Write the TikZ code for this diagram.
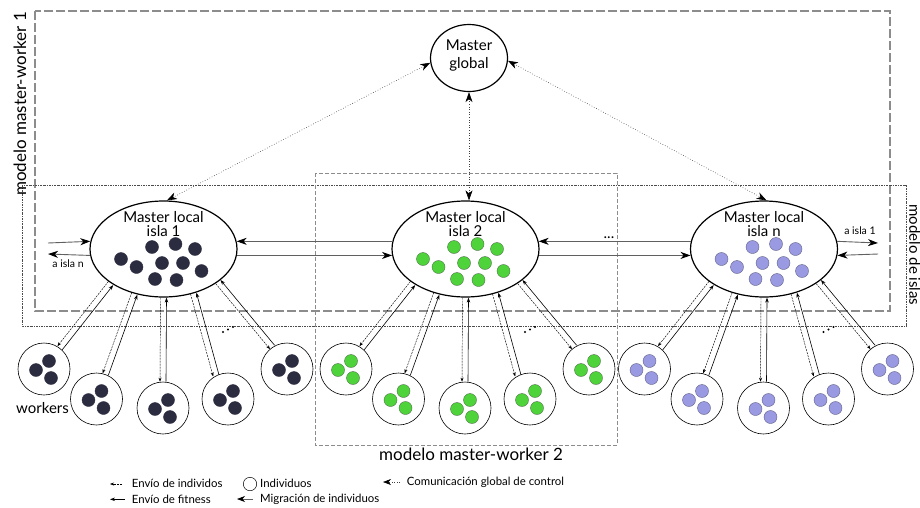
\documentclass[tikz,border=0pt]{standalone}
\usepackage{fontspec}
\setmainfont{Lato}
\usetikzlibrary{arrows.meta,calc,shapes.geometric}
\definecolor{navy}{HTML}{2B2C40}
\definecolor{grn}{HTML}{4ED43A}
\definecolor{grnline}{HTML}{4F6F4A}
\definecolor{lav}{HTML}{9A9AE2}
\definecolor{lavline}{HTML}{5E5E86}
\definecolor{framegray}{HTML}{8C8C8C}
\definecolor{migline}{HTML}{606060}
\newcommand\wklink[4]{%
  \draw[indline] ($(#1.#2)!3pt!-90:(#3.#4)$) -- ($(#3.#4)!3pt!90:(#1.#2)$);
  \draw[fitline] ($(#1.#2)!3pt!90:(#3.#4)$) -- ($(#3.#4)!3pt!-90:(#1.#2)$);
}
\begin{document}
\begin{tikzpicture}[x=1pt,y=-1pt,
  master/.style={ellipse, draw, fill=white, line width=1.2pt, inner sep=0pt},
  worker/.style={circle, draw, fill=white, line width=0.6pt, minimum size=52pt, inner sep=0pt},
  ind/.style={circle, line width=0.4pt, minimum size=13pt, inner sep=0pt},
  indline/.style={dash pattern=on 2pt off 1pt, line width=0.45pt, -{Stealth[length=4pt,width=3pt]}},
  fitline/.style={line width=0.6pt, {Stealth[length=5pt,width=3.5pt]}-},
  mig/.style={migline, line width=0.9pt},
  migtip/.style={-{Stealth[length=10pt,width=7pt,inset=3pt,black]}},
  comm/.style={dotted, line width=0.6pt, black!75},
  commtip/.style={{Stealth[length=10pt,width=7pt,inset=3pt,black]}-{Stealth[length=10pt,width=7pt,inset=3pt,black]}},
  lbl/.style={inner sep=0pt, font=\fontsize{15}{15}\selectfont},
  big/.style={inner sep=0pt, font=\fontsize{17}{17}\selectfont},
  small/.style={inner sep=0pt, font=\fontsize{10.5}{10.5}\selectfont},
  leg/.style={inner sep=0pt, anchor=base west, font=\fontsize{11.4}{11.4}\selectfont}
]
\useasboundingbox (0,0) rectangle (920,507);

% frames
\draw[framegray, line width=1.2pt, dash pattern=on 9pt off 3pt] (35,11) rectangle (890,311);
\draw[black!70, line width=0.6pt, dash pattern=on 2pt off 1pt on 0.7pt off 1pt] (22,185) rectangle (906,326);
\draw[framegray, line width=0.6pt, dash pattern=on 4pt off 2pt] (315,173) rectangle (617,445);
\node[big, rotate=90] (lmw1) at (20,104) {modelo master-worker 1};
\node[inner sep=0pt, font=\fontsize{15}{15}\selectfont, rotate=-90, anchor=base] (lislas) at (909.3,255) {modelo de islas};
\node[big, anchor=base] (lmw2) at (471,460.5) {modelo master-worker 2};

% global master
\node[master, minimum width=77pt, minimum height=67pt] (gl) at (469,58) {};
\node[lbl, anchor=base] (glt1) at (469,50) {Master};
\node[lbl, anchor=base] (glt2) at (469,68) {global};

% islands
\foreach \g/\mx/\col/\lin/\nm in {1/163.5/navy/navy/1, 2/465.5/grn/grnline/2, 3/764/lav/lavline/n} {
  \node[master, minimum width=147pt, minimum height=96pt] (m\g) at (\mx,249) {};
  \node[lbl, anchor=base] (m\g t1) at (\mx,222.5) {Master local};
  \node[lbl, anchor=base] (m\g t2) at (\mx,236) {isla \nm};
  \foreach \dx/\dy [count=\k] in {-42.5/10, -27/18, -11.5/-2, -1.5/14, 12/-5, 19.5/14, 31.5/0, 38/22, -8.5/30, 13/31}
    \node[ind, fill=\col, draw=\lin] (m\g i\k) at (\mx+\dx,249+\dy) {};
  \foreach \ox/\wy [count=\k] in {-119.5/369, -67/399, -0.5/408, 64.5/399, 123.5/369} {
    \node[worker] (w\g-\k) at (\mx+\ox,\wy) {};
    \foreach \dx/\dy [count=\j] in {-8/1, 5/-8, 7/9}
      \node[ind, fill=\col, draw=\lin] (w\g-\k-d\j) at (\mx+\ox+\dx,\wy+\dy) {};
  }
  \foreach \k/\ma/\wa in {1/213/53, 2/237/70, 3/270/90, 4/304/117, 5/329/124} {
    \wklink{m\g}{\ma}{w\g-\k}{\wa}
  }
  \fill (\mx+59.5,332) circle (1.1);
  \fill (\mx+64.5,329.5) circle (1.1);
  \fill (\mx+69.5,327) circle (1.1);
}

\node[lbl, anchor=base] (wk) at (42.5,413.3) {workers};

% migration between islands
\coordinate (l1a) at (48,243);
\coordinate (l1b) at (48,254);
\coordinate (r3a) at (878,243);
\coordinate (r3b) at (878,254);
\draw[mig, migtip] (l1a) -- (m1.174);
\draw[mig, migtip] (m1.185) -- (l1b);
\draw[mig, migtip] (m2.174) -- (m1.6);
\draw[mig, migtip] (m1.-5) -- (m2.185);
\draw[mig, migtip] (m3.174) -- (m2.6);
\draw[mig, migtip] (m2.-5) -- (m3.185);
\draw[mig, migtip] (m3.6) -- (r3a);
\draw[mig, migtip] (r3b) -- (m3.-5);
\node[small, anchor=base] (ain) at (68,267) {a isla n};
\node[small, anchor=base] (ai1) at (860,234) {a isla 1};
\node[lbl, anchor=base] (dots) at (609,238) {...};

% global communication
\draw[comm, commtip] (gl.187) -- (m1.86);
\draw[comm, commtip] (gl.south) -- (gl.south |- m2.north);
\draw[comm, commtip] (gl.356) -- (m3.87);

% legend
\coordinate (la1s) at (122,484);
\coordinate (la1e) at (110,484);
\draw[indline] (la1s) -- (la1e);
\node[leg] (lt1) at (131.7,487.7) {Envío de individos};
\coordinate (la2s) at (125,499.3);
\coordinate (la2e) at (110,499.3);
\draw[fitline] (la2e) -- (la2s);
\node[leg] (lt2) at (131.7,503.3) {Envío de fitness};
\node[circle, draw, line width=0.5pt, minimum size=13.4pt, inner sep=0pt] (lc) at (250,484) {};
\node[leg] (lt3) at (260,487.5) {Individuos};
\coordinate (la3s) at (253,499);
\coordinate (la3e) at (237,499);
\draw[mig, line width=0.7pt, -{Stealth[length=8pt,width=6pt,inset=2.5pt,black]}] (la3s) -- (la3e);
\node[leg] (lt4) at (260,502) {Migración de individuos};
\coordinate (la4s) at (400,482);
\coordinate (la4e) at (383,482);
\draw[comm, -{Stealth[length=8pt,width=6pt,inset=2.5pt,black]}] (la4s) -- (la4e);
\node[leg] (lt5) at (406.7,485.5) {Comunicación global de control};
\end{tikzpicture}
\end{document}
